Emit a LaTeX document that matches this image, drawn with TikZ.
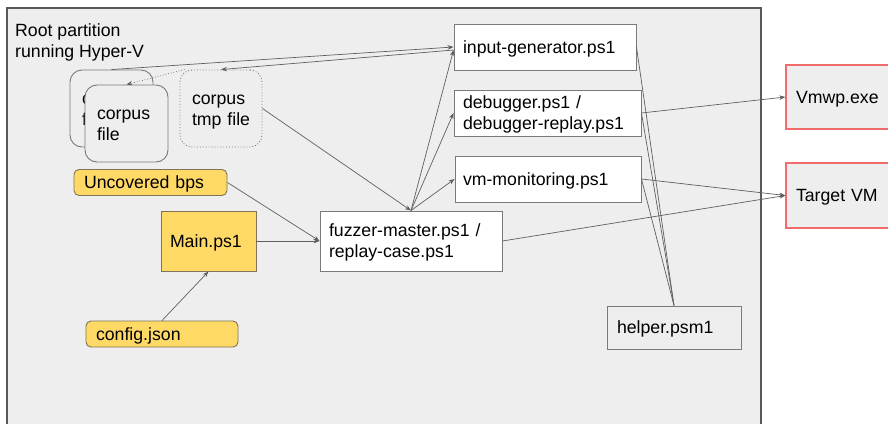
\documentclass[tikz,border=0pt]{standalone}
\usepackage{fontspec}
\setmainfont{Liberation Sans}
\usetikzlibrary{arrows.meta}
\definecolor{bg}{HTML}{EEEEEE}
\definecolor{frame}{HTML}{595959}
\definecolor{boxline}{HTML}{7A7A7A}
\definecolor{yel}{HTML}{FFD966}
\definecolor{yelline}{HTML}{7F7358}
\definecolor{redline}{HTML}{F26B6B}
\definecolor{arr}{HTML}{5F5F5F}
\begin{document}
\begin{tikzpicture}[x=1pt,y=-1pt,
  every node/.style={font=\fontsize{17.7}{21}\selectfont, inner ysep=0pt, align=left},
  txt/.style={execute at begin node={\rule{0pt}{17pt}}, execute at end node={\rule[-5pt]{0pt}{5pt}}},
  wbox/.style={txt, draw=boxline, line width=0.9pt, fill=white, inner xsep=9pt},
  ybox/.style={txt, draw=yelline, line width=0.9pt, fill=yel, inner xsep=10pt},
  rbox/.style={txt, draw=redline, line width=1.2pt, fill=bg, inner xsep=10pt},
  cbox/.style={txt, draw=boxline, line width=0.9pt, fill=bg, rounded corners=12pt, inner xsep=12pt},
  conn/.style={draw=arr, line width=0.7pt, -{Stealth[length=6pt,width=4.5pt]}},
  plain/.style={draw=arr, line width=0.7pt}]
\clip (0,0) rectangle (888,423);
\fill[white] (0,0) rectangle (888,423);
% outer frame
\draw[frame, fill=bg, line width=1.3pt] (7,8) rectangle (761,440);
\node[anchor=north west, inner xsep=0pt] (title) at (15,23) {Root partition\\running Hyper-V};

% corpus files
\node[cbox, minimum width=83pt, minimum height=77pt, text width=59pt] (cb) at (111.5,108.5) {corpus\\file};
\node[cbox, minimum width=83pt, minimum height=77pt, text width=59pt] (cf) at (126.5,123.5) {corpus\\file};
\node[cbox, draw=boxline, dotted, minimum width=82pt, minimum height=77pt, text width=58pt] (tmp) at (221,108.5) {corpus\\\mbox{tmp file}};

% yellow boxes
\node[ybox, rounded corners=5pt, minimum width=153pt, minimum height=26pt, text width=133pt] (ub) at (150.5,182.5) {Uncovered bps};
\node[ybox, minimum width=95pt, minimum height=60pt, text width=77pt, inner xsep=9pt] (main) at (208.5,241) {Main.ps1};
\node[ybox, rounded corners=5pt, minimum width=152pt, minimum height=26pt, text width=132pt] (cfg) at (162,334) {config.json};

% white boxes
\node[wbox, minimum width=182pt, minimum height=60pt, text width=164pt] (fm) at (411,241) {fuzzer-master.ps1 /\\replay-case.ps1};
\node[wbox, minimum width=182pt, minimum height=46pt, text width=164pt] (ig) at (545,47) {input-generator.ps1};
\node[wbox, minimum width=187pt, minimum height=46pt, text width=169pt] (dbg) at (547.5,113) {debugger.ps1 /\\debugger-replay.ps1};
\node[wbox, minimum width=186pt, minimum height=46pt, text width=170pt, inner xsep=8pt] (vm) at (548,179) {vm-monitoring.ps1};
\node[wbox, fill=bg, minimum width=134pt, minimum height=43pt, text width=114pt, inner xsep=10pt] (hp) at (674,327.5) {helper.psm1};

% red boxes
\node[rbox, minimum width=120pt, minimum height=64pt, text width=100pt] (vmwp) at (846,97) {Vmwp.exe};
\node[rbox, minimum width=120pt, minimum height=65pt, text width=100pt] (tvm) at (846,195.5) {Target VM};

% connectors
\path[conn] (cb.north) -- (ig.west);
\path[conn] ([yshift=-3pt]ig.west) -- (tmp.north);
\path[conn, dotted] ([xshift=5pt]tmp.north west) -- (cf.north);
\path[conn] (tmp.east) -- (fm.north);
\path[conn] (ub.east) -- (fm.west);
\path[conn] (main.east) -- (fm.west);
\path[conn] (cfg.north) -- (main.south);
\path[conn] (fm.north) -- ([yshift=-3pt]ig.west);
\path[conn] (fm.north) -- (dbg.west);
\path[conn] (fm.north) -- (vm.west);
\path[conn] (fm.east) -- (tvm.west);
\path[conn] (vm.east) -- (tvm.west);
\path[conn] (dbg.east) -- (vmwp.west);
\path[plain] (hp.north) -- (ig.east);
\path[plain] (hp.north) -- (dbg.east);
\path[plain] (hp.north) -- (vm.east);
\end{tikzpicture}
\end{document}
